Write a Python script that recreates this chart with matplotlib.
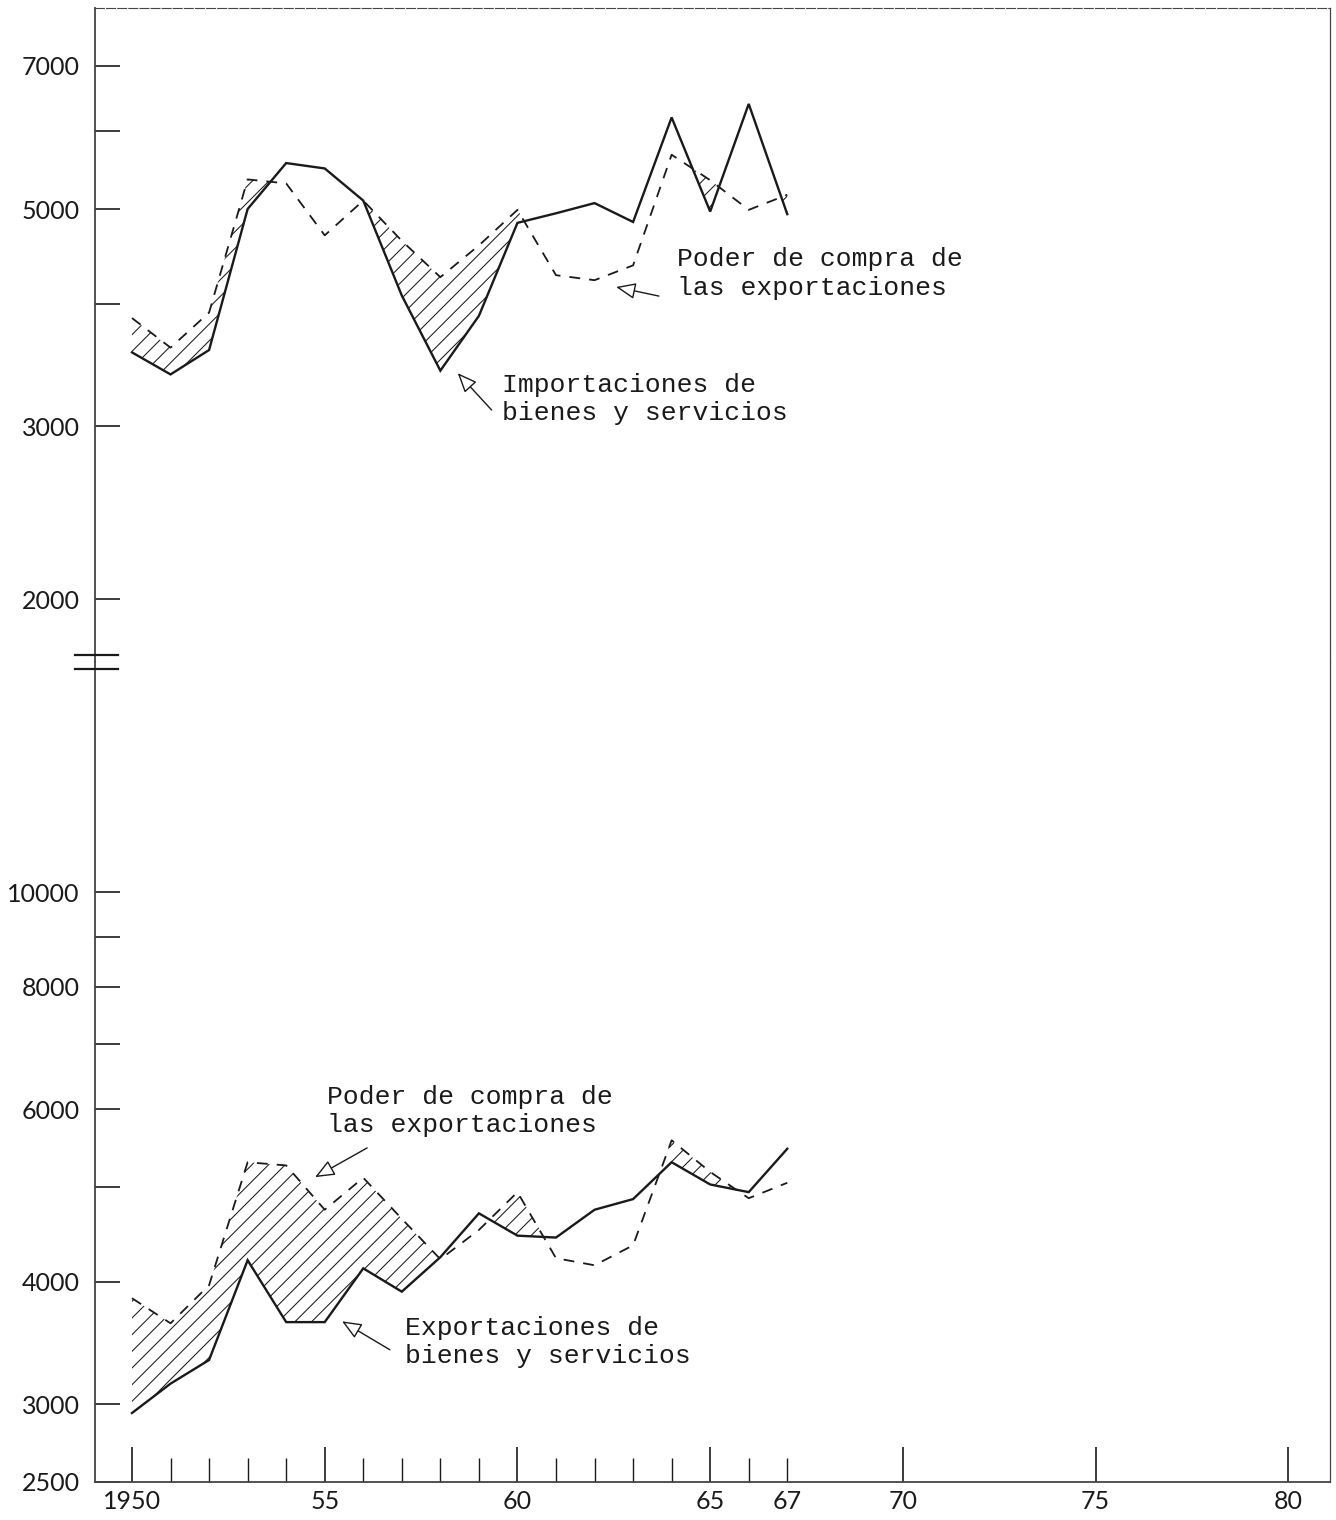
import matplotlib
matplotlib.use("Agg")
import matplotlib.pyplot as plt
from matplotlib.lines import Line2D
from matplotlib.ticker import FixedLocator, FuncFormatter, NullFormatter

INK = "#1a1a1a"
FRAME = "#444444"

years = list(range(1950, 1968))

# upper panel: imports vs purchasing power of exports
importaciones = [3570, 3390, 3590, 5000, 5570, 5500, 5100, 4080, 3420, 3890,
                 4840, 4950, 5070, 4850, 6200, 4970, 6400, 4940]
poder_sup = [3870, 3610, 3920, 5360, 5310, 4700, 5100, 4640, 4260, 4590,
             4990, 4280, 4230, 4380, 5680, 5350, 4990, 5170]

# lower panel: exports vs purchasing power of exports
exportaciones = [2940, 3150, 3330, 4210, 3640, 3640, 4130, 3910, 4240, 4700,
                 4460, 4440, 4740, 4860, 5300, 5030, 4940, 5470]
poder_inf = [3850, 3630, 3970, 5300, 5260, 4740, 5110, 4640, 4220, 4520,
             4940, 4230, 4160, 4360, 5580, 5180, 4870, 5050]

top_major = [2000, 3000, 5000, 7000]
top_minor = [4000, 6000]
bot_major = [2500, 3000, 4000, 6000, 8000, 10000]
bot_minor = [5000, 7000, 9000]

x_major = [1950, 1955, 1960, 1965, 1970, 1975, 1980]
x_minor = [y for y in range(1951, 1968) if y not in x_major]
x_labels = {1950: "1950", 1955: "55", 1960: "60", 1965: "65", 1967: "67",
            1970: "70", 1975: "75", 1980: "80"}

plt.rcParams["hatch.linewidth"] = 0.75
TICK_FONT = ["Lato", "DejaVu Sans"]
NOTE_FONT = ["Liberation Mono", "DejaVu Sans Mono"]

fig = plt.figure(figsize=(13.36, 15.2), dpi=100)
ax_top = fig.add_axes([0.0711, 0.5645, 0.9244, 0.4303])
ax_bot = fig.add_axes([0.0711, 0.025, 0.9244, 0.5395])


def draw_pair(ax, solid, dashed):
    ax.plot(years, solid, color=INK, linewidth=1.7, solid_joinstyle="miter")
    ax.plot(years, dashed, color=INK, linewidth=1.3, linestyle=(0, (6, 5)))
    ax.fill_between(years, solid, dashed, where=[d > s for s, d in zip(solid, dashed)],
                    interpolate=True, facecolor="none", edgecolor=INK,
                    hatch="//", linewidth=0)


def style_y(ax, major, minor, lims):
    ax.set_yscale("log")
    ax.set_ylim(*lims)
    ax.yaxis.set_major_locator(FixedLocator(major))
    ax.yaxis.set_major_formatter(FuncFormatter(lambda v, p: f"{v:.0f}"))
    ax.yaxis.set_minor_locator(FixedLocator(minor))
    ax.yaxis.set_minor_formatter(NullFormatter())
    ax.tick_params(axis="y", which="both", direction="in", length=18, width=1.2,
                   colors=INK, pad=11, labelsize=18)
    for lab in ax.get_yticklabels():
        lab.set_family(TICK_FONT)
    ax.set_xlim(1949.04, 1981.08)
    for side in ("left", "right", "top", "bottom"):
        ax.spines[side].set_color(FRAME)
    ax.spines["left"].set_linewidth(1.3)
    ax.spines["right"].set_linewidth(0.9)


draw_pair(ax_top, importaciones, poder_sup)
draw_pair(ax_bot, exportaciones, poder_inf)

style_y(ax_top, top_major, top_minor, (1725, 8020))
style_y(ax_bot, bot_major, bot_minor, (2500, 17170))

ax_top.spines["bottom"].set_visible(False)
ax_top.spines["top"].set_linewidth(0.8)
ax_top.spines["top"].set_linestyle((0, (8, 2)))
ax_top.set_xticks([])
ax_top.set_xticks([], minor=True)

ax_bot.spines["top"].set_visible(False)
ax_bot.spines["bottom"].set_linewidth(1.3)
ax_bot.xaxis.set_major_locator(FixedLocator(x_major))
ax_bot.xaxis.set_minor_locator(FixedLocator(x_minor))
ax_bot.xaxis.set_major_formatter(FuncFormatter(lambda v, p: x_labels.get(int(round(v)), "")))
ax_bot.xaxis.set_minor_formatter(FuncFormatter(lambda v, p: x_labels.get(int(round(v)), "")))
ax_bot.tick_params(axis="x", which="major", direction="in", length=25, width=1.2,
                   colors=INK, pad=6, labelsize=18)
ax_bot.tick_params(axis="x", which="minor", direction="in", length=17, width=1.0,
                   colors=INK, pad=6, labelsize=18)
for lab in ax_bot.get_xticklabels() + ax_bot.get_xticklabels(minor=True):
    lab.set_family(TICK_FONT)

# axis break marks between the two scales
for yb in (0.5691, 0.5599):
    fig.add_artist(Line2D([0.0561, 0.0883], [yb, yb], color=INK, linewidth=1.6))

arrow = dict(arrowstyle="-|>,head_length=0.6,head_width=0.25", facecolor="white",
             edgecolor=INK, linewidth=1.0, mutation_scale=20, shrinkA=0, shrinkB=0)
note = dict(fontsize=19, color=INK, family=NOTE_FONT, ha="left", va="center",
            linespacing=1.25)

ax_top.text(1964.13, 4300, "Poder de compra de\nlas exportaciones", **note)
ax_top.annotate("", xy=(1962.56, 4163), xytext=(1963.67, 4075), arrowprops=arrow)
ax_top.text(1959.61, 3200, "Importaciones de\nbienes y servicios", **note)
ax_top.annotate("", xy=(1958.45, 3400), xytext=(1959.33, 3118), arrowprops=arrow)

ax_bot.text(1955.06, 5978, "Poder de compra de\nlas exportaciones", **note)
ax_bot.annotate("", xy=(1954.75, 5117), xytext=(1956.10, 5481), arrowprops=arrow)
ax_bot.text(1957.08, 3473, "Exportaciones de\nbienes y servicios", **note)
ax_bot.annotate("", xy=(1955.45, 3647), xytext=(1956.69, 3411), arrowprops=arrow)

fig.savefig("out.png", dpi=100, facecolor="white")
